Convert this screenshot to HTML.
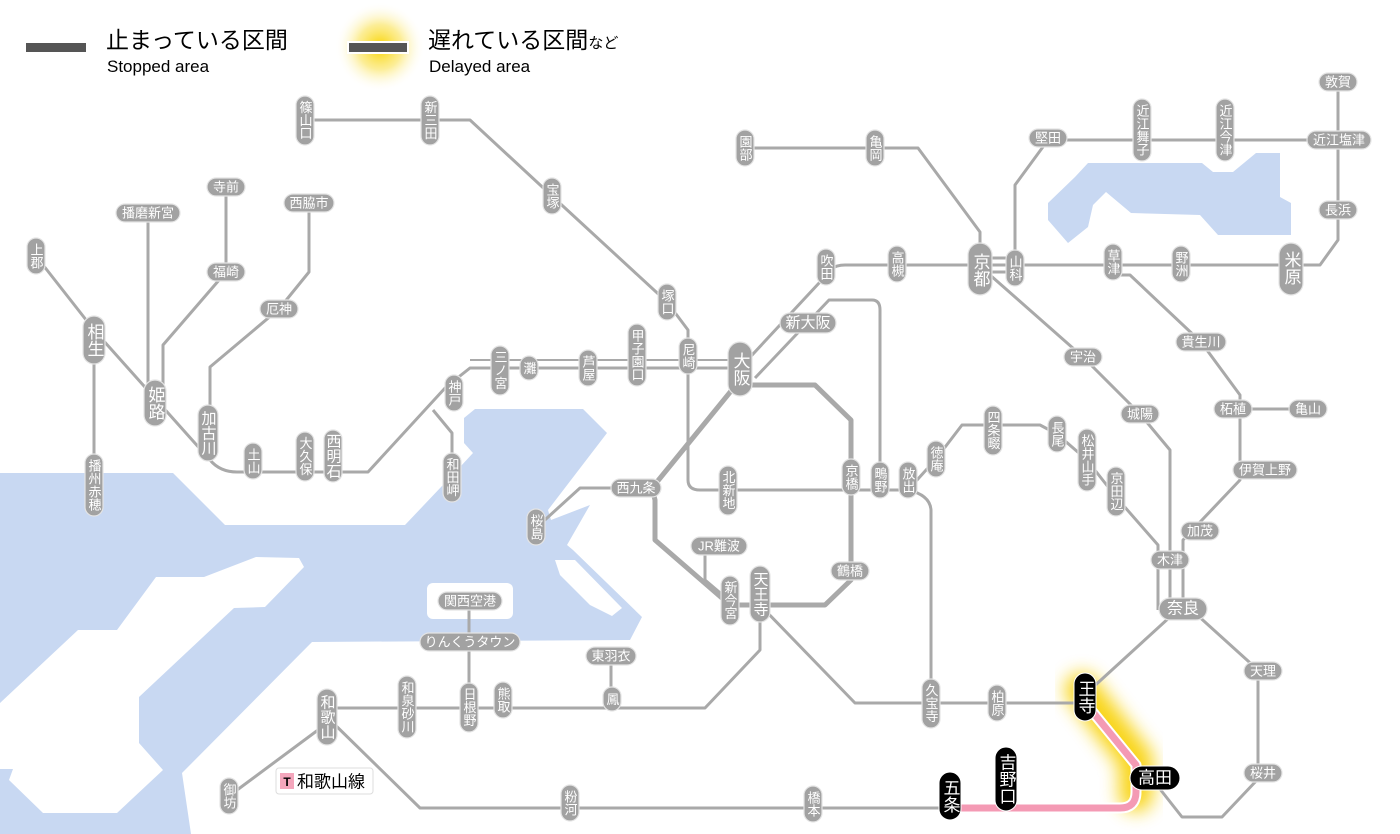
<!DOCTYPE html>
<html><head><meta charset="utf-8"><style>
html,body{margin:0;padding:0;background:#fff}
svg{display:block}
.l{fill:none;stroke:#a9a9a9;stroke-width:3;stroke-linejoin:round}
.p{fill:#a2a2a2;stroke:#e4e4e4;stroke-width:1.2}
.b{fill:#000;stroke:#fff;stroke-width:1}
.t{fill:#fff;font-family:"Liberation Sans","Noto Sans CJK JP",sans-serif;font-size:13px;text-anchor:middle;dominant-baseline:central}
.v{writing-mode:vertical-rl}
.g{font-size:17px}
</style></head><body>
<svg width="1400" height="834" viewBox="0 0 1400 834" xmlns="http://www.w3.org/2000/svg">
<defs>
<filter id="bl" x="-50%" y="-50%" width="200%" height="200%"><feGaussianBlur stdDeviation="9"/></filter>
<radialGradient id="rg"><stop offset="0" stop-color="#f8d400"/><stop offset="0.5" stop-color="#fbe66a" stop-opacity="0.7"/><stop offset="1" stop-color="#fff" stop-opacity="0"/></radialGradient>
</defs>
<!-- water -->
<g fill="#c8d8f2">
<polygon points="0,473 173,473 225,525 405,525 460,467 473,453 464,443 464,418 475,409 583,409 607,433 548,510 551,520 590,505 567,545 573,550 642,617 630,640 312,642 182,773 191,834 0,834"/>
<polygon points="1075,177 1088,163 1202,163 1213,172 1233,172 1256,153 1280,153 1280,197 1291,203 1291,235 1218,235 1200,215 1131,213 1106,192 1093,205 1088,227 1068,243 1048,220 1048,203"/>
</g>
<g fill="#fff">
<polygon points="256,557 299,558 304,567 265,607 234,608 139,697 139,743 163,770 117,813 43,813 9,780 13,769 0,769 0,703 78,630 117,630 156,577 204,577"/>
<rect x="427" y="583" width="86" height="36" rx="6"/>
<polygon points="555,560 575,560 622,608 612,616 590,605 560,575"/>
</g>
<!-- legend -->
<rect x="26" y="43" width="60" height="9" fill="#555"/>
<circle cx="380" cy="47" r="45" fill="url(#rg)"/>
<rect x="347" y="41" width="62" height="13" fill="#fff"/>
<rect x="349" y="43" width="58" height="9" fill="#555"/>
<g font-family="Liberation Sans,Noto Sans CJK JP,sans-serif" fill="#000">
<text x="106" y="48" font-size="23">止まっている区間</text>
<text x="107" y="72" font-size="17">Stopped area</text>
<text x="428" y="48" font-size="23">遅れている区間<tspan font-size="15">など</tspan></text>
<text x="429" y="72" font-size="17">Delayed area</text>
</g>
<!-- glow -->
<path d="M1082,690 L1136,760 V795" fill="none" stroke="#f8d000" stroke-width="34" stroke-linecap="round" filter="url(#bl)" opacity="0.9"/>
<!-- lines -->
<g class="l">
<path d="M305,120 H470 L552,196 L667,302 L688,330 V480 Q688,490 700,490 H908"/>
<path d="M36,256 L94,330"/><path d="M94,330 V485"/>
<path d="M94,330 L210,460 Q220,472 237,472 H368 L446,387 L470,368 H740"/>
<path d="M470,360 H740" stroke-width="2"/>
<path d="M433,410 L452,433 V477"/>
<path d="M148,213 V403"/>
<path d="M226,187 V272 L163,345 V403"/>
<path d="M309,203 V272 L279,309 L210,367 V433"/>
<path d="M740,368 L820,282 Q828,265 845,265 H1320 L1338,240 V82"/>
<path d="M745,148 H918 L980,232 V268"/>
<path d="M980,258 H1015 M980,272 H1015"/>
<path d="M1015,268 V185 L1048,140 H1338"/>
<path d="M990,275 L1083,357 L1140,414 L1170,450 V610"/>
<path d="M1113,275 H1130 L1201,342 L1240,395 V480 L1183,540 V610"/>
<path d="M1233,409 H1308"/>
<path d="M908,490 L936,459 L962,425 H1040 L1057,434 L1087,460 L1116,497 L1158,545 V610"/>
<path d="M755,378 L829,300 H872 Q880,300 880,310 V490"/>
<path d="M908,490 Q930,495 931,510 V703"/>
<path d="M740,385 H815 L851,420 V580 L825,605 H730 L655,540 V500 L652,488 L740,380" stroke-width="5"/>
<path d="M620,488 H580 L536,528"/>
<path d="M705,555 V580 L725,597"/>
<path d="M326,708 H705 L760,650 V600"/>
<path d="M469,601 V707"/><path d="M611,656 V699"/>
<path d="M760,605 L855,703 H1085"/>
<path d="M1090,690 L1171,616"/>
<path d="M1195,613 L1258,670 V779 L1222,817 H1182 L1156,784"/>
<path d="M326,716 L420,808 H955"/>
<path d="M318,730 L229,796"/>
</g>
<path d="M955,808 H1120 Q1136,808 1136,792 V765 L1087,705" fill="none" stroke="#fff" stroke-width="11" stroke-linejoin="round"/>
<path d="M955,808 H1120 Q1136,808 1136,792 V765 L1087,705" fill="none" stroke="#f49ab4" stroke-width="7" stroke-linejoin="round"/>
<!-- wakayama line label -->
<rect x="276" y="768" width="97" height="26" rx="3" fill="#fff" stroke="#ddd"/>
<rect x="280" y="773" width="14" height="16" fill="#f4a6bc"/>
<text x="287" y="782" font-family="Liberation Sans,sans-serif" font-weight="bold" font-size="12" text-anchor="middle" dominant-baseline="central">T</text>
<text x="297" y="782" font-family="Liberation Sans,Noto Sans CJK JP,sans-serif" font-size="17" dominant-baseline="central">和歌山線</text>
<!-- vertical stations: rect + text -->
<g>
<rect class="p" x="296" y="96" width="18" height="49" rx="9"/><text class="t v" x="305" y="120">篠山口</text>
<rect class="p" x="421" y="96" width="18" height="49" rx="9"/><text class="t v" x="430" y="120">新三田</text>
<rect class="p" x="543" y="178" width="18" height="36" rx="9"/><text class="t v" x="552" y="196">宝塚</text>
<rect class="p" x="658" y="284" width="18" height="36" rx="9"/><text class="t v" x="667" y="302">塚口</text>
<rect class="p" x="679" y="338" width="18" height="36" rx="9"/><text class="t v" x="688" y="356">尼崎</text>
<rect class="p" x="628" y="324" width="18" height="62" rx="9"/><text class="t v" x="637" y="355">甲子園口</text>
<rect class="p" x="579" y="350" width="18" height="36" rx="9"/><text class="t v" x="588" y="368">芦屋</text>
<rect class="p" x="520" y="356" width="18" height="24" rx="9"/><text class="t v" x="529" y="368">灘</text>
<rect class="p" x="491" y="346" width="18" height="49" rx="9"/><text class="t v" x="500" y="370">三ノ宮</text>
<rect class="p" x="445" y="375" width="18" height="36" rx="9"/><text class="t v" x="454" y="393">神戸</text>
<rect class="p" x="443" y="453" width="18" height="49" rx="9"/><text class="t v" x="452" y="477">和田岬</text>
<rect class="p" x="324" y="430" width="18" height="52" rx="9"/><text class="t v g" x="333" y="456" style="font-size:15px">西明石</text>
<rect class="p" x="296" y="432" width="18" height="49" rx="9"/><text class="t v" x="305" y="456">大久保</text>
<rect class="p" x="244" y="443" width="18" height="36" rx="9"/><text class="t v" x="253" y="461">土山</text>
<rect class="p" x="198" y="405" width="20" height="56" rx="10"/><text class="t v" x="208" y="433" style="font-size:15px">加古川</text>
<rect class="p" x="144" y="380" width="22" height="46" rx="11"/><text class="t v g" x="155" y="403">姫路</text>
<rect class="p" x="83" y="316" width="22" height="48" rx="11"/><text class="t v g" x="94" y="340">相生</text>
<rect class="p" x="27" y="238" width="18" height="36" rx="9"/><text class="t v" x="36" y="256">上郡</text>
<rect class="p" x="85" y="454" width="18" height="62" rx="9"/><text class="t v" x="94" y="485">播州赤穂</text>
<rect class="p" x="736" y="130" width="18" height="36" rx="9"/><text class="t v" x="745" y="148">園部</text>
<rect class="p" x="866" y="130" width="18" height="36" rx="9"/><text class="t v" x="875" y="148">亀岡</text>
<rect class="p" x="968" y="243" width="24" height="52" rx="12"/><text class="t v g" x="980" y="270">京都</text>
<rect class="p" x="1006" y="250" width="18" height="36" rx="9"/><text class="t v" x="1015" y="268">山科</text>
<rect class="p" x="1133" y="99" width="18" height="62" rx="9"/><text class="t v" x="1142" y="130">近江舞子</text>
<rect class="p" x="1216" y="99" width="18" height="62" rx="9"/><text class="t v" x="1225" y="130">近江今津</text>
<rect class="p" x="1279" y="243" width="24" height="52" rx="12"/><text class="t v g" x="1291" y="268">米原</text>
<rect class="p" x="1172" y="246" width="18" height="36" rx="9"/><text class="t v" x="1181" y="264">野洲</text>
<rect class="p" x="1104" y="244" width="18" height="36" rx="9"/><text class="t v" x="1113" y="262">草津</text>
<rect class="p" x="888" y="246" width="18" height="36" rx="9"/><text class="t v" x="897" y="264">高槻</text>
<rect class="p" x="817" y="249" width="18" height="36" rx="9"/><text class="t v" x="826" y="267">吹田</text>
<rect class="p" x="728" y="342" width="24" height="54" rx="12"/><text class="t v g" x="740" y="369">大阪</text>
<rect class="p" x="317" y="689" width="20" height="56" rx="10"/><text class="t v" x="327" y="717" style="font-size:15px">和歌山</text>
<rect class="p" x="220" y="778" width="18" height="36" rx="9"/><text class="t v" x="229" y="796">御坊</text>
<rect class="p" x="398" y="676" width="18" height="62" rx="9"/><text class="t v" x="407" y="707">和泉砂川</text>
<rect class="p" x="460" y="683" width="18" height="49" rx="9"/><text class="t v" x="469" y="707">日根野</text>
<rect class="p" x="494" y="682" width="18" height="36" rx="9"/><text class="t v" x="503" y="700">熊取</text>
<rect class="p" x="603" y="687" width="18" height="24" rx="9"/><text class="t v" x="612" y="699">鳳</text>
<rect class="p" x="561" y="785" width="18" height="36" rx="9"/><text class="t v" x="570" y="803">粉河</text>
<rect class="p" x="804" y="786" width="18" height="36" rx="9"/><text class="t v" x="813" y="804">橋本</text>
<rect class="p" x="922" y="679" width="18" height="49" rx="9"/><text class="t v" x="931" y="703">久宝寺</text>
<rect class="p" x="988" y="685" width="18" height="36" rx="9"/><text class="t v" x="997" y="703">柏原</text>
<rect class="p" x="750" y="566" width="20" height="56" rx="10"/><text class="t v" x="760" y="594" style="font-size:15px">天王寺</text>
<rect class="p" x="721" y="576" width="18" height="49" rx="9"/><text class="t v" x="730" y="600">新今宮</text>
<rect class="p" x="842" y="459" width="18" height="36" rx="9"/><text class="t v" x="851" y="477">京橋</text>
<rect class="p" x="871" y="462" width="18" height="36" rx="9"/><text class="t v" x="880" y="480">鴫野</text>
<rect class="p" x="899" y="462" width="18" height="36" rx="9"/><text class="t v" x="908" y="480">放出</text>
<rect class="p" x="927" y="441" width="18" height="36" rx="9"/><text class="t v" x="936" y="459">徳庵</text>
<rect class="p" x="984" y="406" width="18" height="49" rx="9"/><text class="t v" x="993" y="430">四条畷</text>
<rect class="p" x="1048" y="416" width="18" height="36" rx="9"/><text class="t v" x="1057" y="434">長尾</text>
<rect class="p" x="1078" y="429" width="18" height="62" rx="9"/><text class="t v" x="1087" y="460">松井山手</text>
<rect class="p" x="1107" y="467" width="18" height="49" rx="9"/><text class="t v" x="1116" y="491">京田辺</text>
<rect class="p" x="527" y="509" width="18" height="36" rx="9"/><text class="t v" x="536" y="527">桜島</text>
<rect class="p" x="719" y="466" width="18" height="49" rx="9"/><text class="t v" x="728" y="490">北新地</text>
<!-- black stations -->
<rect class="b" x="1074" y="673" width="22" height="48" rx="11"/><text class="t v g" x="1085" y="697">王寺</text>
<rect class="b" x="995" y="747" width="22" height="64" rx="11"/><text class="t v g" x="1006" y="779">吉野口</text>
<rect class="b" x="939" y="772" width="22" height="48" rx="11"/><text class="t v g" x="950" y="796">五条</text>
<rect class="b" x="1130" y="766" width="50" height="24" rx="12"/><text class="t g" x="1155" y="778">高田</text>
<!-- horizontal stations -->
<rect class="p" x="116" y="204" width="64" height="18" rx="9"/><text class="t" x="148" y="213">播磨新宮</text>
<rect class="p" x="207" y="178" width="38" height="18" rx="9"/><text class="t" x="226" y="187">寺前</text>
<rect class="p" x="207" y="263" width="38" height="18" rx="9"/><text class="t" x="226" y="272">福崎</text>
<rect class="p" x="284" y="194" width="50" height="18" rx="9"/><text class="t" x="309" y="203">西脇市</text>
<rect class="p" x="260" y="300" width="38" height="18" rx="9"/><text class="t" x="279" y="309">厄神</text>
<rect class="p" x="1029" y="129" width="38" height="18" rx="9"/><text class="t" x="1048" y="138">堅田</text>
<rect class="p" x="1319" y="73" width="38" height="18" rx="9"/><text class="t" x="1338" y="82">敦賀</text>
<rect class="p" x="1307" y="131" width="64" height="18" rx="9"/><text class="t" x="1339" y="140">近江塩津</text>
<rect class="p" x="1319" y="201" width="38" height="18" rx="9"/><text class="t" x="1338" y="210">長浜</text>
<rect class="p" x="780" y="313" width="56" height="20" rx="10"/><text class="t" x="808" y="323" style="font-size:15px">新大阪</text>
<rect class="p" x="1064" y="348" width="38" height="18" rx="9"/><text class="t" x="1083" y="357">宇治</text>
<rect class="p" x="1121" y="405" width="38" height="18" rx="9"/><text class="t" x="1140" y="414">城陽</text>
<rect class="p" x="1176" y="333" width="50" height="18" rx="9"/><text class="t" x="1201" y="342">貴生川</text>
<rect class="p" x="1214" y="400" width="38" height="18" rx="9"/><text class="t" x="1233" y="409">柘植</text>
<rect class="p" x="1289" y="400" width="38" height="18" rx="9"/><text class="t" x="1308" y="409">亀山</text>
<rect class="p" x="1233" y="461" width="64" height="18" rx="9"/><text class="t" x="1265" y="470">伊賀上野</text>
<rect class="p" x="1181" y="522" width="38" height="18" rx="9"/><text class="t" x="1200" y="531">加茂</text>
<rect class="p" x="1151" y="551" width="38" height="18" rx="9"/><text class="t" x="1170" y="560">木津</text>
<rect class="p" x="1159" y="598" width="48" height="22" rx="11"/><text class="t" x="1183" y="609" style="font-size:16px">奈良</text>
<rect class="p" x="1244" y="662" width="38" height="18" rx="9"/><text class="t" x="1263" y="671">天理</text>
<rect class="p" x="1244" y="764" width="38" height="18" rx="9"/><text class="t" x="1263" y="773">桜井</text>
<rect class="p" x="586" y="647" width="50" height="18" rx="9"/><text class="t" x="611" y="656">東羽衣</text>
<rect class="p" x="420" y="633" width="100" height="18" rx="9"/><text class="t" x="470" y="642">りんくうタウン</text>
<rect class="p" x="438" y="592" width="64" height="18" rx="9"/><text class="t" x="470" y="601">関西空港</text>
<rect class="p" x="691" y="537" width="56" height="18" rx="9"/><text class="t" x="719" y="546">JR難波</text>
<rect class="p" x="831" y="562" width="38" height="18" rx="9"/><text class="t" x="850" y="571">鶴橋</text>
<rect class="p" x="611" y="479" width="50" height="18" rx="9"/><text class="t" x="636" y="488">西九条</text>
</g>
</svg>
</body></html>
